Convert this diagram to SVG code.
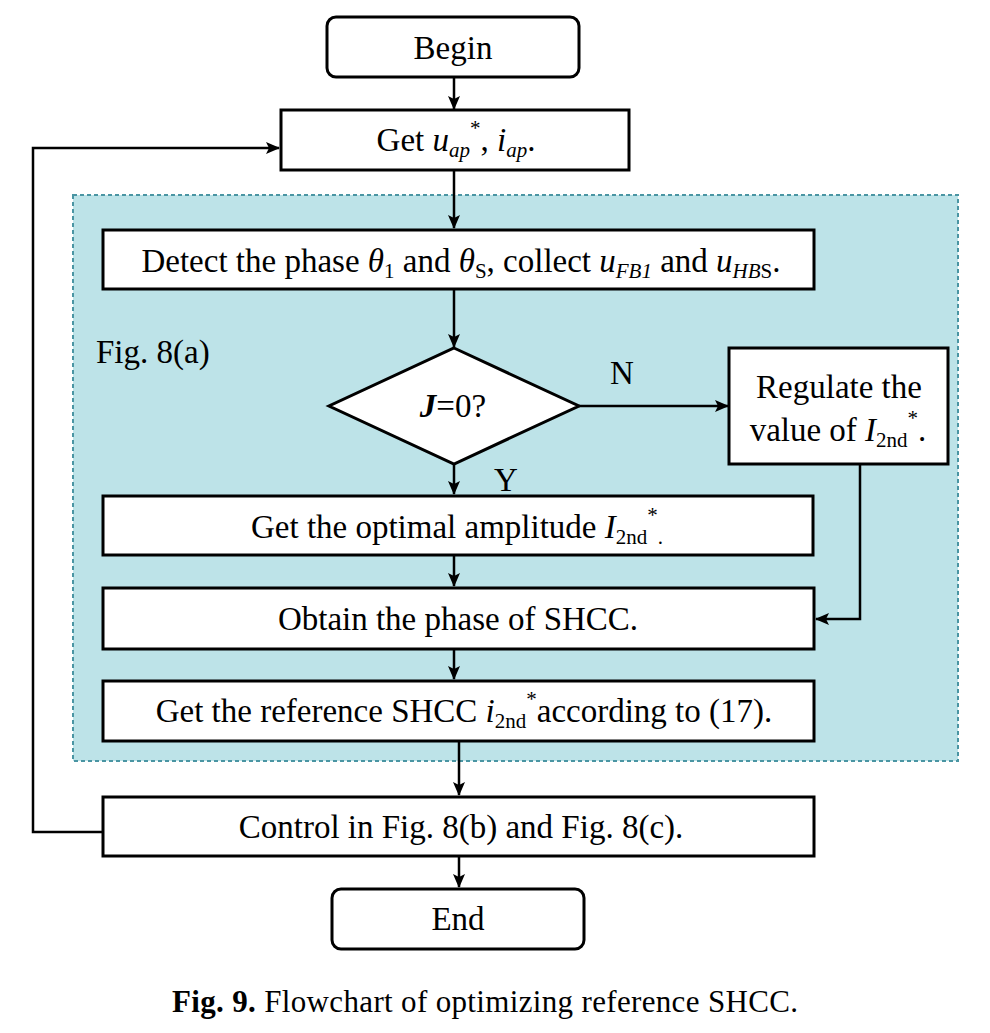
<svg xmlns="http://www.w3.org/2000/svg" width="990" height="1033" viewBox="0 0 990 1033">
<defs>
<marker id="ah" markerWidth="14" markerHeight="12" viewBox="0 0 14 12" refX="13" refY="6" orient="auto" markerUnits="userSpaceOnUse">
<path d="M0,0 L14,6 L0,12 L3,6 z" fill="#000"/>
</marker>
<style>
.box{fill:#fff;stroke:#000;stroke-width:3}
.t{font-family:"Liberation Serif","Times New Roman",serif;font-size:33px;fill:#000;text-anchor:middle}
.i{font-style:italic}
.s{font-size:21px}
.c{fill:none;stroke:#000;stroke-width:2.5}
.cap{font-family:"Liberation Serif","Times New Roman",serif;font-size:31px;fill:#000}
</style>
</defs>
<rect x="0" y="0" width="990" height="1033" fill="#fff"/>
<g id="region">
<rect x="73" y="195" width="885" height="566" fill="#bde3e8" stroke="#4a95a3" stroke-width="2" stroke-dasharray="4,3"/>
<text class="t" x="96" y="363" style="text-anchor:start">Fig. 8(a)</text>
</g>
<g id="connectors">
<line class="c" x1="454" y1="77" x2="454" y2="109" marker-end="url(#ah)"/>
<line class="c" x1="454" y1="170" x2="454" y2="228" marker-end="url(#ah)"/>
<line class="c" x1="454" y1="290" x2="454" y2="347" marker-end="url(#ah)"/>
<line class="c" x1="579" y1="406" x2="728" y2="406" marker-end="url(#ah)"/>
<line class="c" x1="454" y1="464" x2="454" y2="494" marker-end="url(#ah)"/>
<line class="c" x1="454" y1="556" x2="454" y2="586" marker-end="url(#ah)"/>
<polyline class="c" points="860,465 860,619 816,619" marker-end="url(#ah)"/>
<line class="c" x1="454" y1="650" x2="454" y2="679" marker-end="url(#ah)"/>
<line class="c" x1="459" y1="742" x2="459" y2="795" marker-end="url(#ah)"/>
<line class="c" x1="459" y1="857" x2="459" y2="887" marker-end="url(#ah)"/>
<polyline class="c" points="103,832 33,832 33,148 279,148" marker-end="url(#ah)"/>
<text class="t" x="622" y="384">N</text>
<text class="t" x="506" y="491">Y</text>
</g>
<g id="begin">
<rect class="box" x="327" y="17" width="252" height="60" rx="9"/>
<text class="t" x="453" y="59">Begin</text>
</g>
<g id="get-uap">
<rect class="box" x="281" y="110" width="348" height="60"/>
<text class="t" x="456" y="151">Get <tspan class="i">u</tspan><tspan class="i s" dy="6">ap</tspan><tspan class="s" dy="-22">*</tspan><tspan dy="16">, </tspan><tspan class="i">i</tspan><tspan class="i s" dy="6">ap</tspan><tspan dy="-6">.</tspan></text>
</g>
<g id="detect">
<rect class="box" x="103" y="230" width="711" height="59"/>
<text class="t" x="461" y="272">Detect the phase <tspan class="i">θ</tspan><tspan class="s" dy="6">1</tspan><tspan dy="-6"> and </tspan><tspan class="i">θ</tspan><tspan class="s" dy="6">S</tspan><tspan dy="-6">, collect </tspan><tspan class="i">u</tspan><tspan class="i s" dy="6">FB1</tspan><tspan dy="-6"> and </tspan><tspan class="i">u</tspan><tspan class="i s" dy="6">HB</tspan><tspan class="s">S</tspan><tspan dy="-6">.</tspan></text>
</g>
<g id="decision">
<polygon points="454,348 579,406 454,464 329,406" fill="#fff" stroke="#000" stroke-width="3" stroke-linejoin="miter"/>
<text class="t" x="453" y="417"><tspan class="i" font-weight="bold">J</tspan>=0?</text>
</g>
<g id="regulate">
<rect class="box" x="729" y="348" width="219" height="116"/>
<text class="t" x="839" y="398">Regulate the</text>
<text class="t" x="838" y="441">value of <tspan class="i">I</tspan><tspan class="s" dy="6">2nd</tspan><tspan class="s" dy="-22">*</tspan><tspan dy="16">.</tspan></text>
</g>
<g id="optimal">
<rect class="box" x="103" y="496" width="710" height="59"/>
<text class="t" x="457" y="538">Get the optimal amplitude <tspan class="i">I</tspan><tspan class="s" dy="6">2nd</tspan><tspan class="s" dy="-22">*</tspan><tspan class="s" dy="22">.</tspan></text>
</g>
<g id="obtain">
<rect class="box" x="103" y="588" width="711" height="61"/>
<text class="t" x="458" y="630">Obtain the phase of SHCC.</text>
</g>
<g id="reference">
<rect class="box" x="103" y="681" width="711" height="60"/>
<text class="t" x="464" y="722">Get the reference SHCC <tspan class="i">i</tspan><tspan class="s" dy="6">2nd</tspan><tspan class="s" dy="-22">*</tspan><tspan dy="16">according to (17).</tspan></text>
</g>
<g id="control">
<rect class="box" x="103" y="797" width="711" height="59"/>
<text class="t" x="461" y="838">Control in Fig. 8(b) and Fig. 8(c).</text>
</g>
<g id="end">
<rect class="box" x="332" y="889" width="252" height="60" rx="9"/>
<text class="t" x="458" y="930">End</text>
</g>
<text class="cap" x="172" y="1012" textLength="626" lengthAdjust="spacing"><tspan font-weight="bold">Fig. 9.</tspan>  Flowchart of optimizing reference SHCC.</text>
</svg>
